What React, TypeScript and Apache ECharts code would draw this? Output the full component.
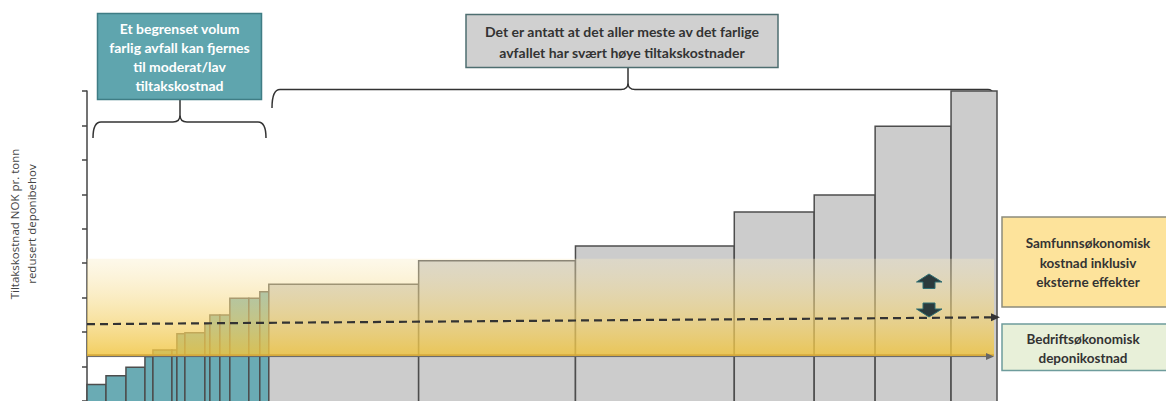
import React, { useEffect, useRef } from "react";
import * as echarts from "echarts";

// Volume (width) of each measure and its cost per tonne (height)
const volumes = [1.9, 2.0, 1.9, 0.8, 1.9, 0.5, 0.8, 2.0, 0.5, 1.0, 1.0, 1.9, 1.1, 0.9, 15.0, 15.7, 15.9, 8.0, 6.1, 7.6, 4.6];
const costs = [0.48, 0.73, 0.98, 1.29, 1.48, 1.48, 1.95, 1.98, 2.24, 2.5, 2.5, 2.98, 2.98, 3.17, 3.39, 4.07, 4.5, 5.49, 5.98, 7.98, 9.0];
const groups = ["lav", "lav", "lav", "lav", "lav", "lav", "lav", "lav", "lav", "lav", "lav", "lav", "lav", "lav", "høy", "høy", "høy", "høy", "høy", "høy", "høy"];

// Cost levels
const bandRange = [1.33, 4.13]; // societal cost range (gradient band)
const bandEnd = 90.8;
const companyCost = 1.29; // Bedriftsøkonomisk deponikostnad
const societalCost = [2.23, 2.43]; // dashed line start / end
const lineEnd = [90.8, 91.4];

const yTicks = { min: 0, max: 9, interval: 1 };
const xMax = 91.1;

const yTitle = "Tiltakskostnad NOK pr. tonn\nredusert deponibehov";
const noteLow = "Et begrenset volum\nfarlig avfall kan fjernes\ntil moderat/lav\ntiltakskostnad";
const noteHigh = "Det er antatt at det aller meste av det farlige\navfallet har svært høye tiltakskostnader";
const legendSociety = "Samfunnsøkonomisk\nkostnad inklusiv\neksterne effekter";
const legendCompany = "Bedriftsøkonomisk\ndeponikostnad";

const FONT = "Lato, 'Open Sans', sans-serif";

echarts.graphic.registerShape(
  "braceLow",
  echarts.graphic.extendPath(
    "M93,138 Q93,122 101,122 L173,122 Q180,122 180,115 L180,100 M180,115 Q180,122 187,122 L258,122 Q266,122 266,138",
    {}
  )
);
echarts.graphic.registerShape(
  "braceHigh",
  echarts.graphic.extendPath(
    "M272,108 Q272,89.5 280,89.5 L621,89.5 Q628,89.5 628,83 L628,68 M628,83 Q628,89.5 635,89.5 L988,89.5 Q996,89.5 996,108",
    {}
  )
);

export default function App() {
  const ref = useRef<HTMLDivElement>(null);

  useEffect(() => {
    if (!ref.current) return;
    const chart = echarts.init(ref.current, null, { renderer: "svg" });

    let acc = 0;
    const barData = volumes.map((w, i) => {
      const row = [acc, acc + w, costs[i], groups[i] === "lav" ? 0 : 1];
      acc += w;
      return row;
    });

    const option: any = {
      animation: false,
      grid: { left: 87, right: 169, top: 91, bottom: 0, containLabel: false },
      xAxis: {
        type: "value",
        min: 0,
        max: xMax,
        show: false,
      },
      yAxis: {
        type: "value",
        min: yTicks.min,
        max: yTicks.max,
        interval: yTicks.interval,
        axisLine: { show: true, lineStyle: { color: "#444", width: 1.5 } },
        axisTick: { show: true, inside: false, length: 5, lineStyle: { color: "#444", width: 1.5 } },
        axisLabel: { show: false },
        splitLine: { show: false },
      },
      series: [
        {
          type: "custom",
          z: 2,
          data: barData,
          encode: { x: [0, 1], y: 2 },
          renderItem: (params: any, api: any) => {
            const x0 = api.value(0);
            const x1 = api.value(1);
            const v = api.value(2);
            const g = api.value(3);
            const p0 = api.coord([x0, v]);
            const p1 = api.coord([x1, 0]);
            return {
              type: "rect",
              shape: { x: p0[0], y: p0[1], width: p1[0] - p0[0], height: p1[1] - p0[1] + 2 },
              style: { fill: g === 0 ? "#6aabb4" : "#cccccc", stroke: "#4d4d4d", lineWidth: 1.5 },
            };
          },
        },
        {
          type: "custom",
          z: 5,
          data: [[0, bandEnd, bandRange[0], bandRange[1]]],
          encode: { x: [0, 1], y: [2, 3] },
          renderItem: (params: any, api: any) => {
            const pTop = api.coord([api.value(0), api.value(3)]);
            const pBot = api.coord([api.value(1), api.value(2)]);
            return {
              type: "group",
              children: [
                {
                  type: "rect",
                  shape: { x: pTop[0], y: pTop[1], width: pBot[0] - pTop[0], height: pBot[1] - pTop[1] },
                  style: {
                    fill: {
                      type: "linear",
                      x: 0,
                      y: 0,
                      x2: 0,
                      y2: 1,
                      colorStops: [
                        { offset: 0, color: "rgba(250,236,195,0.35)" },
                        { offset: 1, color: "rgba(240,196,62,0.82)" },
                      ],
                    },
                  },
                },
                {
                  type: "line",
                  shape: { x1: pTop[0], y1: pBot[1], x2: pBot[0], y2: pBot[1] },
                  style: { stroke: "#d4a93c", lineWidth: 2 },
                },
              ],
            };
          },
        },
        {
          type: "custom",
          z: 6,
          data: [
            [0, companyCost, lineEnd[0], companyCost, 0],
            [0, societalCost[0], lineEnd[1], societalCost[1], 1],
          ],
          encode: { x: [0, 2], y: [1, 3] },
          clip: false,
          renderItem: (params: any, api: any) => {
            const a = api.coord([api.value(0), api.value(1)]);
            const b = api.coord([api.value(2), api.value(3)]);
            const dashed = api.value(4) === 1;
            const ang = Math.atan2(b[1] - a[1], b[0] - a[0]);
            const L = dashed ? 9 : 8;
            const W = dashed ? 4 : 3.5;
            const ca = Math.cos(ang);
            const sa = Math.sin(ang);
            const base = [b[0] - L * ca, b[1] - L * sa];
            const color = dashed ? "#333" : "#666";
            return {
              type: "group",
              children: [
                {
                  type: "line",
                  shape: { x1: a[0], y1: a[1], x2: base[0], y2: base[1] },
                  style: {
                    stroke: color,
                    lineWidth: dashed ? 2.2 : 1,
                    lineDash: dashed ? [8, 5] : null,
                  },
                },
                {
                  type: "polygon",
                  shape: {
                    points: [
                      [b[0], b[1]],
                      [base[0] + W * sa, base[1] - W * ca],
                      [base[0] - W * sa, base[1] + W * ca],
                    ],
                  },
                  style: { fill: color },
                },
              ],
            };
          },
        },
      ],
      graphic: [
        // y-axis title
        {
          type: "text",
          x: 23,
          y: 224,
          rotation: Math.PI / 2,
          style: {
            text: yTitle,
            font: "11.5px 'Open Sans', sans-serif",
            fill: "#444",
            textAlign: "center",
            textVerticalAlign: "middle",
            lineHeight: 16.5,
          },
        },
        // braces
        { type: "braceLow", style: { fill: "none", stroke: "#333", lineWidth: 1.5 } },
        { type: "braceHigh", style: { fill: "none", stroke: "#333", lineWidth: 1.5 } },
        // teal note box
        {
          type: "rect",
          shape: { x: 97.5, y: 13.5, width: 164, height: 86 },
          style: { fill: "#5fa5ae", stroke: "#3f7d85", lineWidth: 1.5 },
        },
        {
          type: "text",
          x: 179.5,
          y: 57,
          style: {
            text: noteLow,
            font: `bold 14px ${FONT}`,
            fill: "#ffffff",
            textAlign: "center",
            textVerticalAlign: "middle",
            lineHeight: 19.3,
          },
        },
        // grey note box
        {
          type: "rect",
          shape: { x: 466, y: 14.5, width: 312, height: 53 },
          style: { fill: "#d0d0d0", stroke: "#4e6e70", lineWidth: 1.5 },
        },
        {
          type: "text",
          x: 622,
          y: 42,
          style: {
            text: noteHigh,
            font: `bold 14px ${FONT}`,
            fill: "#333",
            textAlign: "center",
            textVerticalAlign: "middle",
            lineHeight: 21,
          },
        },
        // up / down arrows
        {
          type: "polygon",
          z: 100,
          shape: {
            points: [
              [929, 274],
              [942, 282],
              [935, 282],
              [935, 288.5],
              [923, 288.5],
              [923, 282],
              [916.5, 282],
            ],
          },
          style: { fill: "#2b3a3c", stroke: "#2f6f73", lineWidth: 1 },
        },
        {
          type: "polygon",
          z: 100,
          shape: {
            points: [
              [923, 303],
              [935, 303],
              [935, 309],
              [942, 309],
              [929, 317],
              [916.5, 309],
              [923, 309],
            ],
          },
          style: { fill: "#2b3a3c", stroke: "#2f6f73", lineWidth: 1 },
        },
        // legend boxes on the right
        {
          type: "rect",
          shape: { x: 1002, y: 217, width: 170, height: 90 },
          style: { fill: "#fde39b", stroke: "#8c8c7c", lineWidth: 1.5 },
        },
        {
          type: "text",
          x: 1088,
          y: 262.5,
          style: {
            text: legendSociety,
            font: `bold 13.5px ${FONT}`,
            fill: "#333",
            textAlign: "center",
            textVerticalAlign: "middle",
            lineHeight: 19.5,
          },
        },
        {
          type: "rect",
          shape: { x: 1002, y: 324, width: 170, height: 46.5 },
          style: { fill: "#e8f0d9", stroke: "#6e9c9c", lineWidth: 1.5 },
        },
        {
          type: "text",
          x: 1083,
          y: 348.5,
          style: {
            text: legendCompany,
            font: `bold 13.5px ${FONT}`,
            fill: "#333",
            textAlign: "center",
            textVerticalAlign: "middle",
            lineHeight: 19.5,
          },
        },
      ],
    };

    chart.setOption(option);
    return () => chart.dispose();
  }, []);

  return (
    <div
      ref={ref}
      style={{ position: "fixed", left: 0, top: 0, width: 1166, height: 401, background: "#fff" }}
    />
  );
}
